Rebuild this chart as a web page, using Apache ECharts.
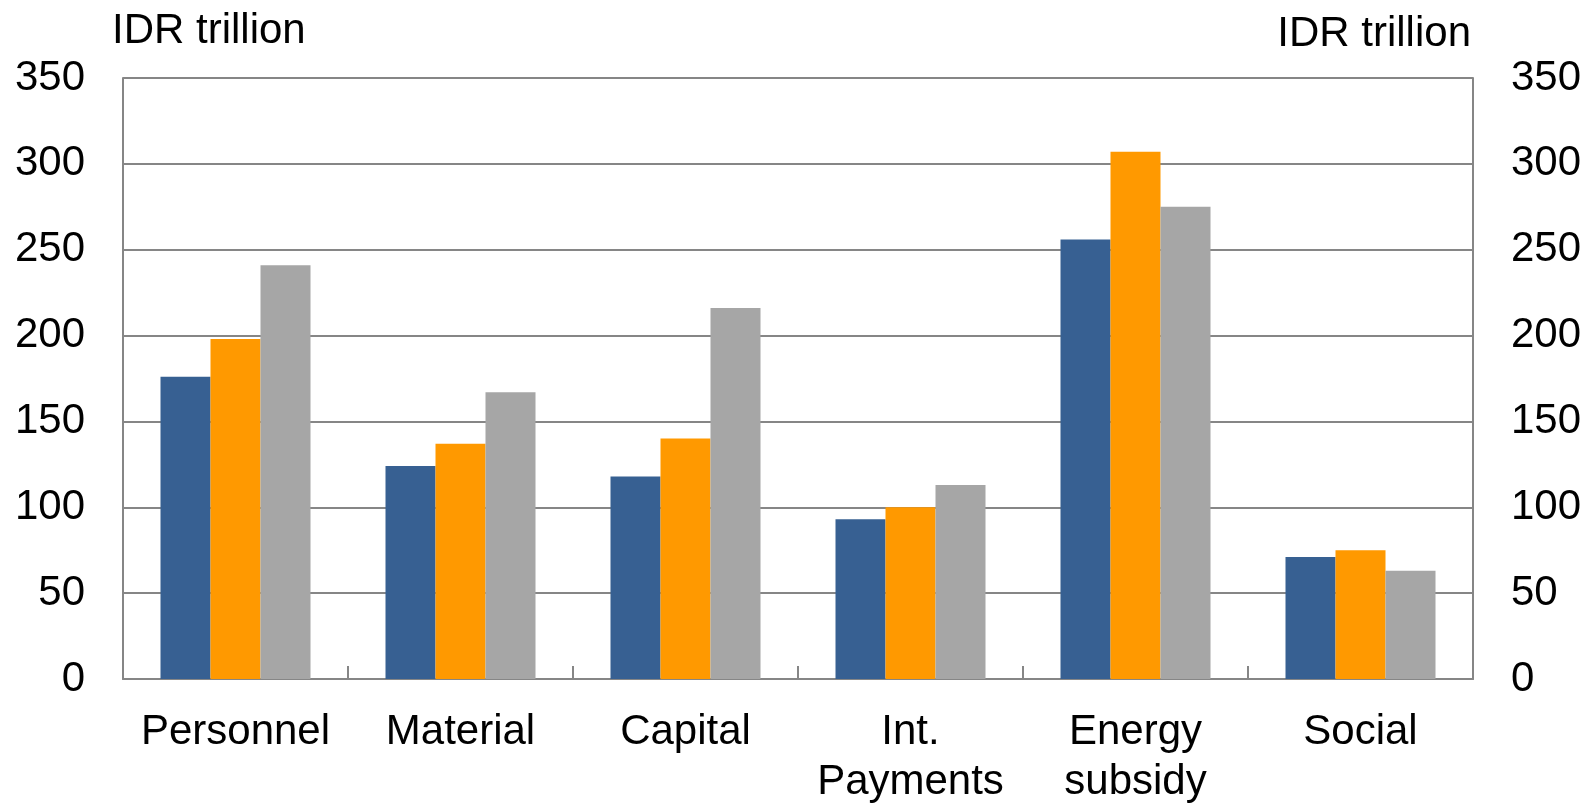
<!DOCTYPE html>
<html>
<head>
<meta charset="utf-8">
<script src="https://cdn.jsdelivr.net/npm/echarts@6/dist/echarts.min.js"></script>
<style>
html,body{margin:0;padding:0;background:#fff;}
#chart{width:1593px;height:807px;}
</style>
</head>
<body>
<div id="chart"></div>
<script>
const categories = ['Personnel', 'Material', 'Capital', 'Int.\nPayments', 'Energy\nsubsidy', 'Social'];
const seriesA = [176, 124, 118, 93, 256, 71];
const seriesB = [198, 137, 140, 100, 307, 75];
const seriesC = [241, 167, 216, 113, 275, 63];
const axisTitle = 'IDR trillion';

const FONT = '"Liberation Sans", Arial, sans-serif';
const chart = echarts.init(document.getElementById('chart'), null, {renderer: 'canvas'});
const yAxisBase = {
  type: 'value', min: 0, max: 350, interval: 50,
  axisLine: {show: true, lineStyle: {color: '#868686', width: 2}},
  axisTick: {show: false},
  axisLabel: {fontSize: 42, color: '#000', fontFamily: FONT, margin: 38},
  splitLine: {show: true, lineStyle: {color: '#868686', width: 2}}
};
chart.setOption({
  animation: false,
  backgroundColor: '#fff',
  grid: {left: 123, right: 120, top: 78, bottom: 122, containLabel: false},
  graphic: [
    {type: 'text', left: 112, top: 10, style: {text: axisTitle, fontSize: 42, fontFamily: FONT, fill: '#000'}},
    {type: 'text', right: 122, top: 13, style: {text: axisTitle, fontSize: 42, fontFamily: FONT, fill: '#000'}}
  ],
  xAxis: {
    type: 'category', data: categories,
    axisLine: {lineStyle: {color: '#868686', width: 2}},
    axisTick: {show: true, inside: true, length: 13, alignWithLabel: false, lineStyle: {color: '#868686', width: 2}},
    axisLabel: {fontSize: 42, color: '#000', fontFamily: FONT, margin: 28, lineHeight: 50, interval: 0}
  },
  yAxis: [
    Object.assign({}, yAxisBase, {position: 'left'}),
    Object.assign({}, yAxisBase, {position: 'right', splitLine: {show: false}})
  ],
  series: [
    {type: 'bar', data: seriesA, itemStyle: {color: '#376092'}, barWidth: 50, barGap: '0%'},
    {type: 'bar', data: seriesB, itemStyle: {color: '#FF9900'}, barWidth: 50, barGap: '0%'},
    {type: 'bar', data: seriesC, itemStyle: {color: '#A6A6A6'}, barWidth: 50, barGap: '0%'}
  ]
});
</script>
</body>
</html>
